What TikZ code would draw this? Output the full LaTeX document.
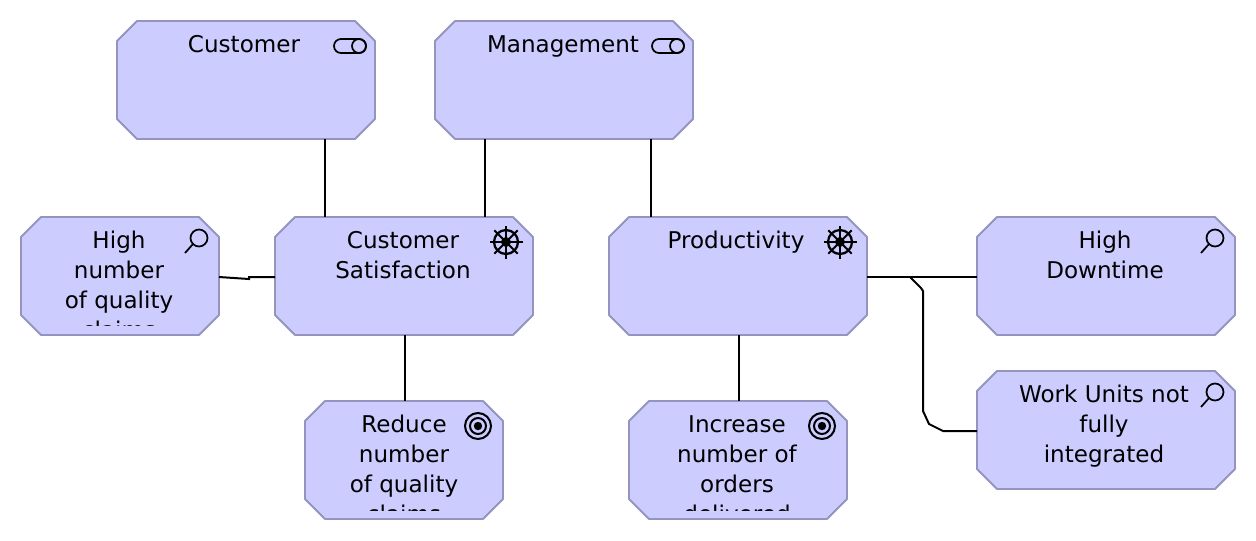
\documentclass[tikz,border=0pt]{standalone}
\usepackage{fontspec}
\setmainfont{DejaVu Sans}

\definecolor{boxfill}{HTML}{CCCCFF}
\definecolor{boxline}{HTML}{9494BE}

\tikzset{
	archibox/.style={rectangle, inner sep=0pt, outer sep=0pt, minimum height=88.5pt},
	widebox/.style={archibox, minimum width=193.5pt},
	midbox/.style={archibox, minimum width=163.5pt},
	narrowbox/.style={archibox, minimum width=148.5pt},
	boxoutline/.style={draw=boxline, fill=boxfill, line width=1.4pt, line join=round},
	boxtext/.style={align=center, anchor=north, inner sep=0pt, font=\fontsize{17.3pt}{22.5pt}\selectfont},
	relation/.style={draw=black, line width=1.5pt},
	pics/rolemark/.style={code={
		\draw[line width=1.3pt, rounded corners=5.2pt] (-16,-7) rectangle (16,7);
		\draw[line width=1.3pt] (9,0) circle (7);
	}},
	pics/assessmark/.style={code={
		\draw[line width=1.3pt] (0,0) circle (8.5);
		\draw[line width=1.3pt] (-6,6) -- (-14,15);
	}},
	pics/drivermark/.style={code={
		\draw[line width=1.7pt] (0,0) circle (12);
		\foreach \a in {0,45,...,315}
			\draw[line width=1.4pt] (0,0) -- (\a:16.5);
		\fill (0,0) circle (5);
	}},
	pics/goalmark/.style={code={
		\draw[line width=1.5pt] (0,0) circle (13);
		\draw[line width=1.5pt] (0,0) circle (8);
		\fill (0,0) circle (4.2);
	}}
}

% named box with cut corners
\newcommand{\archinode}[3]{%
	\node[#1] (#2) at (#3) {};
	\draw[boxoutline] ([xshift=15pt]#2.north west) -- ([xshift=-15pt]#2.north east)
		-- ([yshift=-15pt]#2.north east) -- ([yshift=15pt]#2.south east)
		-- ([xshift=-15pt]#2.south east) -- ([xshift=15pt]#2.south west)
		-- ([yshift=15pt]#2.south west) -- ([yshift=-15pt]#2.north west) -- cycle;
}

\begin{document}
\begin{tikzpicture}[x=0.75pt, y=-0.75pt]
	\useasboundingbox (0,0) rectangle (1256,540);

	% boxes
	\archinode{widebox}{customer}{246,80}
	\archinode{widebox}{management}{564,80}
	\archinode{narrowbox}{quality}{120,276}
	\archinode{widebox}{satisfaction}{404,276}
	\archinode{widebox}{productivity}{738,276}
	\archinode{widebox}{downtime}{1106,276}
	\archinode{widebox}{workunits}{1106,430}
	\archinode{narrowbox}{reduce}{404,460}
	\archinode{midbox}{increase}{738,460}

	% labels
	\node[boxtext] (customerlabel) at (244,35) {Customer};
	\node[boxtext] (managementlabel) at (563,35) {Management};
	\node[boxtext] (satisfactionlabel) at (403,231) {Customer\\Satisfaction};
	\node[boxtext] (productivitylabel) at (736,231) {Productivity};
	\node[boxtext] (downtimelabel) at (1105,231) {High\\Downtime};
	\node[boxtext] (workunitslabel) at (1104,385) {Work Units not\\fully\\integrated};
	\begin{scope}
		\clip (30,220) rectangle (210,325);
		\node[boxtext] (qualitylabel) at (119,231) {High\\number\\of quality\\claims};
	\end{scope}
	\begin{scope}
		\clip (315,405) rectangle (495,510);
		\node[boxtext] (reducelabel) at (404,415) {Reduce\\number\\of quality\\claims};
	\end{scope}
	\begin{scope}
		\clip (640,405) rectangle (840,510);
		\node[boxtext] (increaselabel) at (737,415) {Increase\\number of\\orders\\delivered};
	\end{scope}

	% icons
	\pic at ([shift={(-25,-34)}]customer.east) {rolemark};
	\pic at ([shift={(-25,-34)}]management.east) {rolemark};
	\pic at ([shift={(-27,-34)}]satisfaction.east) {drivermark};
	\pic at ([shift={(-27,-34)}]productivity.east) {drivermark};
	\pic at ([shift={(-20,-38)}]quality.east) {assessmark};
	\pic at ([shift={(-20,-38)}]downtime.east) {assessmark};
	\pic at ([shift={(-20,-38)}]workunits.east) {assessmark};
	\pic at ([shift={(-25,-34)}]reduce.east) {goalmark};
	\pic at ([shift={(-25,-34)}]increase.east) {goalmark};

	% relations
	\draw[relation] ([shift={(79,0)}]customer.south) -- ([shift={(-79,0)}]satisfaction.north);
	\draw[relation] ([shift={(-79,0)}]management.south) -- ([shift={(81,0)}]satisfaction.north);
	\draw[relation] ([shift={(87,0)}]management.south) -- ([shift={(-87,0)}]productivity.north);
	\draw[relation] ([shift={(1,0)}]satisfaction.south) -- ([shift={(1,0)}]reduce.north);
	\draw[relation] ([shift={(1,0)}]productivity.south) -- ([shift={(1,0)}]increase.north);
	\draw[relation] ([shift={(0,1)}]quality.east) -- (249,279) -- (249,277) -- ([shift={(0,1)}]satisfaction.west);
	\draw[relation] ([shift={(0,1)}]productivity.east) -- ([shift={(0,1)}]downtime.west);
	\draw[relation] (910,277) -- (921,288) -- (923,291) -- (923,411) -- (929,424) -- (943,431) -- ([shift={(0,1)}]workunits.west);
\end{tikzpicture}
\end{document}
